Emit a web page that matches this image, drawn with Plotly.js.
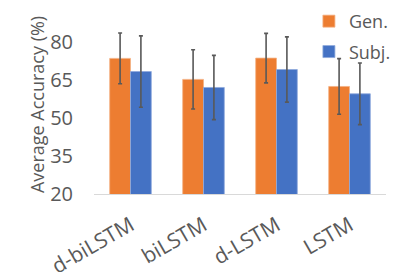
<!DOCTYPE html>
<html>
<head>
<meta charset="utf-8">
<script src="https://cdn.plot.ly/plotly-3.0.1.min.js"></script>
<style>html,body{margin:0;padding:0;background:#fff;}#chart{width:399px;height:272px;}</style>
</head>
<body>
<div id="chart"></div>
<script>
var categories = ["d-biLSTM", "biLSTM", "d-LSTM", "LSTM"];
var genValues = [73.6, 65.3, 73.7, 62.5];
var genErrors = [10.0, 11.7, 9.8, 11.0];
var subjValues = [68.4, 62.1, 69.2, 59.6];
var subjErrors = [14.1, 12.7, 12.9, 12.2];
var yTicks = [20, 35, 50, 65, 80];

var errStyle = {type: 'data', visible: true, color: '#595959', thickness: 1.6, width: 2};

var traces = [
  {type: 'bar', name: 'Gen.', x: categories, y: genValues, legendgroup: 'g',
   marker: {color: '#ED7D31', line: {color: '#F4B183', width: 0.8}},
   error_y: Object.assign({array: genErrors}, errStyle), cliponaxis: false},
  {type: 'bar', name: 'Subj.', x: categories, y: subjValues, legendgroup: 's',
   marker: {color: '#4472C4', line: {color: '#8FAADC', width: 0.8}},
   error_y: Object.assign({array: subjErrors}, errStyle), cliponaxis: false}
];

var layout = {
  width: 399, height: 272,
  margin: {l: 94, r: 13, t: 27, b: 78, autoexpand: false},
  paper_bgcolor: '#fff', plot_bgcolor: '#fff',
  font: {family: 'Open Sans, Noto Sans, sans-serif', color: '#595959'},
  barmode: 'group', bargap: 0.43, bargroupgap: 0,
  showlegend: true,
  legend: {x: 0.736, y: 1.144, xanchor: 'left', yanchor: 'top', traceorder: 'grouped',
           tracegroupgap: 4,
           font: {size: 18, color: '#595959'}, bgcolor: 'rgba(0,0,0,0)'},
  xaxis: {tickangle: -30, tickfont: {size: 21, color: '#595959'}, automargin: false,
          showline: true, linecolor: '#D9D9D9', linewidth: 1, ticks: '', showgrid: false,
          zeroline: false, ticklabelstandoff: 10},
  yaxis: {range: [20, 86], tickvals: yTicks, ticktext: yTicks.map(String), automargin: false,
          tickfont: {size: 20, color: '#595959'}, showgrid: false, zeroline: false,
          showline: false, ticks: '', ticklabelstandoff: 20},
  annotations: [
    {text: 'Average Accuracy (%)', xref: 'paper', yref: 'paper', x: -0.195, y: 0.533,
     textangle: -90, showarrow: false, xanchor: 'center', yanchor: 'middle',
     font: {size: 18, color: '#595959'}}
  ]
};

Plotly.newPlot('chart', traces, layout, {displayModeBar: false, staticPlot: true});
</script>
</body>
</html>
